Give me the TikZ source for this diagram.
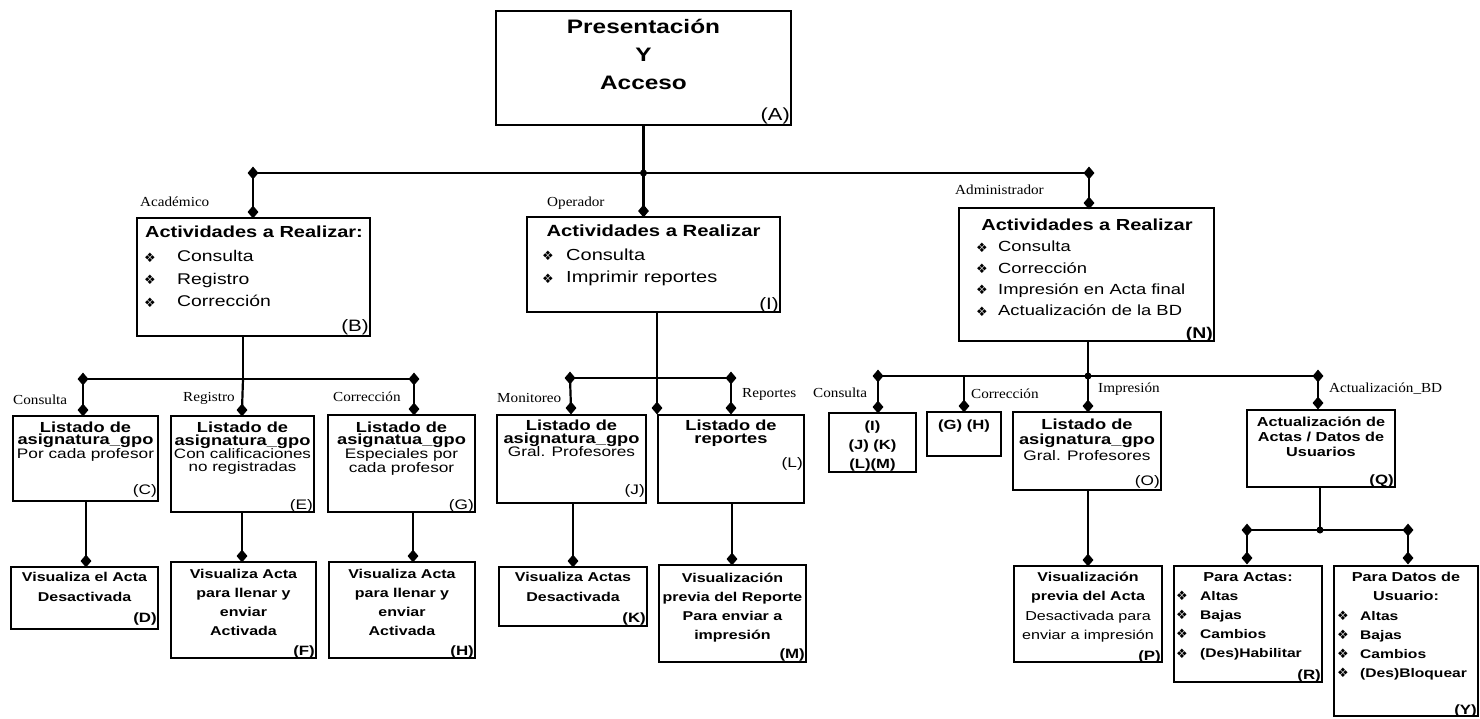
\documentclass[tikz,border=0pt]{standalone}
\usepackage{fontspec}
\setmainfont{Liberation Sans}[FakeStretch=1.25]
\newfontfamily\lblfont{Liberation Serif}[FakeStretch=1.1]
\newfontfamily\symfont{DejaVu Sans}
\usetikzlibrary{shapes.geometric}

\newcommand\fs[2]{\fontsize{#1}{#2}\selectfont}
\newcommand\bul{{\symfont\fontsize{13}{13}\selectfont\raisebox{-0.5pt}{❖}}}
% box by its corners (x1,y1) (x2,y2)
\newcommand\bx[5]{\node[box, minimum width={#4-#2}, minimum height={#5-#3}] (#1) at ({(#2+#4)/2},{(#3+#5)/2}) {};}
% centred text block: name, x, first baseline, width, content
\newcommand\ctext[5]{\node[txt] (#1) at (#2,#3) {\parbox[t]{#4pt}{\centering #5}};}
% left aligned list: name, x, first baseline, width, content
\newcommand\ltext[5]{\node[txt, anchor=base west] (#1) at (#2,#3) {\parbox[t]{#4pt}{\raggedright #5}};}
\newcommand\itm[2]{\makebox[#1pt][l]{\bul}#2}

\tikzset{
  x=1pt, y=-1pt,
  box/.style={draw, line width=2pt, inner sep=0pt},
  conn/.style={line width=2.2pt},
  thinconn/.style={line width=1.1pt},
  dia/.style={diamond, fill=black, inner sep=0pt, minimum width=11pt, minimum height=13pt},
  dot/.style={circle, fill=black, inner sep=0pt, minimum size=7pt},
  txt/.style={inner sep=0pt, anchor=base},
  lbl/.style={inner sep=0pt, anchor=base west, font=\lblfont\fs{13.8}{14}},
  tag/.style={inner sep=0pt, anchor=base east},
  bigtag/.style={tag, font=\fs{16.5}{17}},
  smalltag/.style={tag, font=\fs{13.8}{14}},
  boldtag/.style={tag, font=\bfseries\fs{13.5}{14}},
}

\begin{document}
\begin{tikzpicture}
\fill[white] (0,0) rectangle (1480,718);
\useasboundingbox (0,0) rectangle (1480,718);

% ---------- root ----------
\bx{A}{496}{11}{791}{125}
\ctext{At}{643.5}{33.5}{290}{\bfseries\fs{19.5}{28}Presentación\\Y\\Acceso}
\node[tag, font=\fs{17.5}{18}] (Atag) at (790,120) {(A)};

% ---------- first level ----------
\node[dia] (d1) at (253,173) {};
\node[dot] (j1) at (643.5,173) {};
\node[dia] (d2) at (1089,173) {};
\draw[conn] (A.south) -- (j1.center);
\draw[conn] (d1.center) -- (d2.center);

\bx{B}{137}{218}{370}{336}
\bx{I}{527}{217}{780}{312}
\bx{N}{959}{208}{1214}{341}
\node[dia] (dB) at (253,212) {};
\node[dia] (dI) at (643.5,211) {};
\node[dia] (dN) at (1089,203) {};
\draw[conn] (d1.center) -- (dB.center);
\draw[conn] (j1.center) -- (dI.center);
\draw[conn] (d2.center) -- (dN.center);

\node[lbl] (lAca) at (140,206) {Académico};
\node[lbl] (lOpe) at (547,206.5) {Operador};
\node[lbl] (lAdm) at (955,194) {Administrador};

\ctext{Bh}{254}{237}{233}{\bfseries\fs{16}{22}Actividades a Realizar:}
\ltext{Bl}{144}{261.5}{200}{\fs{15.5}{22.5}\itm{33}{Consulta}\\\itm{33}{Registro}\\\itm{33}{Corrección}}
\node[bigtag] (Btag) at (369,331) {(B)};

\ctext{Ih}{653.5}{236}{253}{\bfseries\fs{16.2}{22}Actividades a Realizar}
\ltext{Il}{542}{260}{220}{\fs{16}{22.7}\itm{24}{Consulta}\\\itm{24}{Imprimir reportes}}
\node[bigtag] (Itag) at (779,309) {(I)};

\ctext{Nh}{1087}{230}{255}{\bfseries\fs{16}{22}Actividades a Realizar}
\ltext{Nl}{976}{251.7}{230}{\fs{14.7}{21.3}\itm{22}{Consulta}\\\itm{22}{Corrección}\\\itm{22}{Impresión en Acta final}\\\itm{22}{Actualización de la BD}}
\node[tag, font=\bfseries\fs{15.5}{16}] (Ntag) at (1213,338.5) {(N)};

% ---------- Académico branch ----------
\coordinate (jB) at (243,379);
\node[dia] (dC0) at (83,379) {};
\node[dia] (dG0) at (414,379) {};
\draw[conn] (B.south -| jB) -- (jB);
\draw[conn] (dC0.center) -- (dG0.center);

\bx{C}{13}{416}{158}{501}
\bx{E}{171}{416}{314}{512}
\bx{G}{328}{415}{475}{512}
\node[dia] (dC1) at (83,410) {};
\node[dia] (dE1) at (242,410) {};
\node[dia] (dG1) at (414,409) {};
\draw[conn] (dC0.center) -- (dC1.center);
\draw[conn] (jB) -- (dE1.center);
\draw[conn] (dG0.center) -- (dG1.center);

\node[lbl] (lCon) at (13,404) {Consulta};
\node[lbl] (lReg) at (183,401.7) {Registro};
\node[lbl] (lCor) at (333,401.7) {Corrección};

\ctext{Ct}{85.5}{432}{145}{\fs{13.8}{12.4}{\bfseries\fs{14.6}{12.4}Listado de}\\{\bfseries\fs{14.6}{12.4}asignatura\_gpo}\\Por cada profesor}
\node[smalltag] (Ctag) at (157,494) {(C)};
\ctext{Et}{242.5}{432}{143}{\fs{13.6}{13}{\bfseries\fs{14.6}{13}Listado de}\\{\bfseries\fs{14.6}{13}asignatura\_gpo}\\Con calificaciones\\no registradas}
\node[smalltag] (Etag) at (313,509) {(E)};
\ctext{Gt}{401.5}{432}{147}{\fs{13.8}{12.8}{\bfseries\fs{14.6}{12.8}Listado de}\\{\bfseries\fs{14.6}{12.8}asignatua\_gpo}\\Especiales por\\cada profesor}
\node[smalltag] (Gtag) at (474,509) {(G)};

\bx{D}{11}{567}{158}{629}
\bx{F}{171}{562}{316}{658}
\bx{H}{329}{562}{475}{658}
\node[dia] (dD) at (86,561) {};
\node[dia] (dF) at (242,556) {};
\node[dia] (dH) at (413,556) {};
\draw[conn] (C.south -| dD) -- (dD.center);
\draw[conn] (E.south -| dF) -- (dF.center);
\draw[conn] (G.south -| dH) -- (dH.center);

\ctext{Dt}{84.5}{581.7}{147}{\bfseries\fs{12.8}{20}Visualiza el Acta\\Desactivada}
\node[boldtag] (Dtag) at (157,622) {(D)};
\ctext{Ft}{243.5}{578}{145}{\bfseries\fs{12.8}{19}Visualiza Acta\\para llenar y\\enviar\\Activada}
\node[boldtag] (Ftag) at (315,655) {(F)};
\ctext{Ht}{402}{578}{146}{\bfseries\fs{12.8}{19}Visualiza Acta\\para llenar y\\enviar\\Activada}
\node[boldtag] (Htag) at (474,655) {(H)};

% ---------- Operador branch ----------
\coordinate (jI) at (657,378);
\node[dia] (dJ0) at (570,378) {};
\node[dia] (dL0) at (731,378) {};
\node[dia] (dIL) at (657,408) {};
\draw[thinconn] (I.south -| dIL) -- (dIL.center);
\draw[conn] (dJ0.center) -- (dL0.center);

\bx{J}{497}{415}{646}{503}
\bx{L}{658}{415}{804}{503}
\node[dia] (dJ1) at (571,408) {};
\node[dia] (dL1) at (731,408) {};
\draw[conn] (dJ0.center) -- (dJ1.center);
\draw[conn] (dL0.center) -- (dL1.center);

\node[lbl] (lMon) at (497,402.7) {Monitoreo};
\node[lbl] (lRep) at (742,397.7) {Reportes};

\ctext{Jt}{571.5}{430}{149}{\fs{13.8}{13.3}{\bfseries\fs{14.6}{13.3}Listado de}\\{\bfseries\fs{14.6}{13.3}asignatura\_gpo}\\Gral. Profesores}
\node[smalltag] (Jtag) at (645,494) {(J)};
\ctext{Lt}{731}{430}{146}{\bfseries\fs{14.6}{13.3}Listado de\\reportes}
\node[smalltag] (Ltag) at (803,467) {(L)};

\bx{K}{499}{567}{647}{626}
\bx{M}{659}{565}{806}{662}
\node[dia] (dK) at (573,561) {};
\node[dia] (dM) at (732,559) {};
\draw[conn] (J.south -| dK) -- (dK.center);
\draw[conn] (L.south -| dM) -- (dM.center);

\ctext{Kt}{573}{581.7}{148}{\bfseries\fs{12.8}{19.5}Visualiza Actas\\Desactivada}
\node[boldtag] (Ktag) at (646,622) {(K)};
\ctext{Mt}{732.5}{582.7}{147}{\bfseries\fs{12.8}{19}Visualización\\previa del Reporte\\Para enviar a\\impresión}
\node[boldtag] (Mtag) at (805,658) {(M)};

% ---------- Administrador branch ----------
\node[dot] (jN) at (1088,376) {};
\node[dia] (dc0) at (878,376) {};
\node[dia] (dq0) at (1318,376) {};
\coordinate (jgh) at (964,376);
\draw[conn] (N.south -| jN) -- (jN.center);
\draw[conn] (dc0.center) -- (dq0.center);

\bx{Rc}{829}{413}{916}{472}
\bx{Rg}{927}{412}{1001}{456}
\bx{O}{1013}{412}{1161}{490}
\bx{Q}{1247}{410}{1395}{487}
\node[dia] (dc1) at (878,407) {};
\node[dia] (dgh) at (964,406) {};
\node[dia] (dO) at (1088,406) {};
\node[dia] (dq1) at (1318,403) {};
\draw[conn] (dc0.center) -- (dc1.center);
\draw[conn] (jgh) -- (dgh.center);
\draw[conn] (jN.center) -- (dO.center);
\draw[conn] (dq0.center) -- (dq1.center);

\node[lbl] (lCon2) at (813,397.7) {Consulta};
\node[lbl] (lCor2) at (971,398) {Corrección};
\node[lbl] (lImp) at (1098,392.3) {Impresión};
\node[lbl] (lAct) at (1329,392.3) {Actualización\_BD};

\ctext{Rct}{872.5}{430}{87}{\bfseries\fs{13.3}{19}(I)\\(J) (K)\\(L)(M)}
\ctext{Rgt}{964}{429}{74}{\bfseries\fs{13.3}{19}(G) (H)}
\ctext{Ot}{1087}{429}{148}{\fs{13.8}{15.5}{\bfseries\fs{14.6}{15.5}Listado de}\\{\bfseries\fs{14.6}{15.5}asignatura\_gpo}\\Gral. Profesores}
\node[smalltag] (Otag) at (1160,485) {(O)};
\ctext{Qt}{1321}{426.7}{148}{\bfseries\fs{13}{15}Actualización de\\Actas / Datos de\\Usuarios}
\node[boldtag] (Qtag) at (1394,484) {(Q)};

\bx{P}{1014}{566}{1162}{662}
\node[dia] (dP) at (1088,560) {};
\draw[conn] (O.south -| dP) -- (dP.center);
\ctext{Pt}{1088}{581.7}{148}{\fs{12.9}{19.2}{\bfseries\fs{12.8}{19.2}Visualización}\\{\bfseries\fs{12.8}{19.2}previa del Acta}\\Desactivada para\\enviar a impresión}
\node[boldtag] (Ptag) at (1161,660) {(P)};

\node[dot] (jQ) at (1320,530) {};
\node[dia] (dR0) at (1247,530) {};
\node[dia] (dY0) at (1408,530) {};
\draw[conn] (Q.south -| jQ) -- (jQ.center);
\draw[conn] (dR0.center) -- (dY0.center);

\bx{R}{1174}{566}{1322}{682}
\bx{Y}{1334}{566}{1478}{716}
\node[dia] (dR1) at (1247,558) {};
\node[dia] (dY1) at (1408,558) {};
\draw[conn] (dR0.center) -- (dR1.center);
\draw[conn] (dY0.center) -- (dY1.center);

\ctext{Rh}{1248}{581.7}{148}{\bfseries\fs{13}{19}Para Actas:}
\ltext{Rl}{1176}{600}{140}{\bfseries\fs{12.5}{19.2}\itm{24}{Altas}\\\itm{24}{Bajas}\\\itm{24}{Cambios}\\\itm{24}{(Des)Habilitar}}
\node[boldtag] (Rtag) at (1321,679) {(R)};

\ctext{Yh}{1406}{581.7}{144}{\bfseries\fs{13}{19}Para Datos de\\Usuario:}
\ltext{Yl}{1337}{620}{138}{\bfseries\fs{12.5}{19}\itm{23}{Altas}\\\itm{23}{Bajas}\\\itm{23}{Cambios}\\\itm{23}{(Des)Bloquear}}
\node[boldtag] (Ytag) at (1477,714) {(Y)};
\end{tikzpicture}
\end{document}
